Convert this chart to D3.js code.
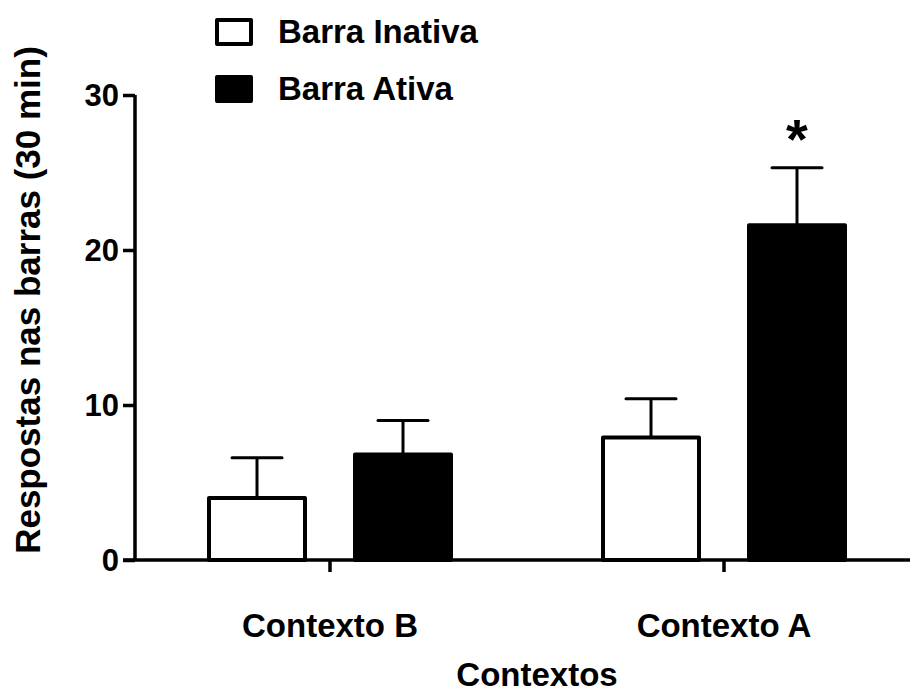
<!DOCTYPE html>
<html>
<head>
<meta charset="utf-8">
<script src="https://cdn.jsdelivr.net/npm/d3@7"></script>
<style>
  html, body { margin: 0; padding: 0; background: #fff; }
  text { font-family: "Liberation Sans", Arial, sans-serif; font-weight: bold; fill: #000; }
</style>
</head>
<body>
<svg id="chart" width="913" height="695"></svg>
<script>
// data
const contexts = ["Contexto B", "Contexto A"];
const series = ["Barra Inativa", "Barra Ativa"];
const means = [[4.0, 6.8], [7.9, 21.6]];   // [context][series]
const sems  = [[2.6, 2.2], [2.5, 3.7]];
const yTicks = [0, 10, 20, 30];
const significant = [[false, false], [false, true]];

const svg = d3.select("#chart");

const y = d3.scaleLinear().domain([0, 30]).range([560, 95]);
const x = d3.scaleBand().domain(contexts).range([133, 921]);
const xSub = d3.scalePoint().domain(series).range([-73, 73]);
const barW = 100;
const fill = d3.scaleOrdinal().domain(series).range(["#fff", "#000"]);

const rows = [];
contexts.forEach((c, i) => series.forEach((s, j) => {
  rows.push({ context: c, series: s, mean: means[i][j], sem: sems[i][j], sig: significant[i][j] });
}));
const cx = d => x(d.context) + x.bandwidth() / 2 + xSub(d.series);

// bars
svg.append("g").selectAll("rect")
  .data(rows)
  .join("rect")
  .attr("x", d => cx(d) - barW / 2 + 2)
  .attr("width", barW - 4)
  .attr("y", d => y(d.mean))
  .attr("height", d => y(0) - y(d.mean))
  .attr("fill", d => fill(d.series))
  .attr("stroke", "#000")
  .attr("stroke-width", 4)
  .attr("stroke-linejoin", "round");

// error bars (upper only)
const err = svg.append("g").attr("stroke", "#000").attr("stroke-width", 3);
err.selectAll("line.v")
  .data(rows)
  .join("line")
  .attr("class", "v")
  .attr("x1", cx).attr("x2", cx)
  .attr("y1", d => y(d.mean))
  .attr("y2", d => y(d.mean + d.sem));
err.selectAll("line.cap")
  .data(rows)
  .join("line")
  .attr("class", "cap")
  .attr("x1", d => cx(d) - 25).attr("x2", d => cx(d) + 25)
  .attr("y1", d => y(d.mean + d.sem))
  .attr("y2", d => y(d.mean + d.sem))
  .attr("stroke-linecap", "round");

// significance marker
svg.append("g").selectAll("text")
  .data(rows.filter(d => d.sig))
  .join("text")
  .attr("x", cx)
  .attr("y", d => y(d.mean + d.sem) - 10)
  .attr("text-anchor", "middle")
  .style("font-size", "56px")
  .text("*");

// y axis
const axisX = 135;
const yAxis = svg.append("g")
  .attr("transform", `translate(${axisX},0)`)
  .call(d3.axisLeft(y).tickValues(yTicks).tickSize(12).tickPadding(4));
yAxis.select(".domain").attr("d", `M0,${y(30)}V${y(0)}`).attr("stroke-width", 3.5);
yAxis.selectAll(".tick line").attr("stroke-width", 3.5);
yAxis.selectAll(".tick text")
  .style("font-size", "31px").style("font-family", "Liberation Sans, Arial, sans-serif")
  .attr("dy", "0.35em");

// x axis
const xAxis = svg.append("g")
  .attr("transform", `translate(0,${y(0)})`)
  .call(d3.axisBottom(x).tickSize(12).tickPadding(42));
xAxis.select(".domain").attr("d", `M${axisX - 12},0H910`).attr("stroke-width", 3.5);
xAxis.selectAll(".tick line").attr("stroke-width", 3.5);
xAxis.selectAll(".tick text")
  .style("font-size", "33px").style("font-family", "Liberation Sans, Arial, sans-serif");

// axis titles
svg.append("text")
  .attr("x", 537).attr("y", 686)
  .attr("text-anchor", "middle")
  .style("font-size", "33px")
  .text("Contextos");

svg.append("text")
  .attr("transform", "translate(40,300) rotate(-90)")
  .attr("text-anchor", "middle")
  .style("font-size", "35px")
  .text("Respostas nas barras (30 min)");

// legend
const legend = svg.append("g").selectAll("g")
  .data(series)
  .join("g")
  .attr("transform", (d, i) => `translate(215,${18 + i * 57})`);
legend.append("rect")
  .attr("x", 2).attr("y", 2)
  .attr("width", 34).attr("height", 24)
  .attr("fill", d => fill(d))
  .attr("stroke", "#000").attr("stroke-width", 4)
  .attr("stroke-linejoin", "round");
legend.append("text")
  .attr("x", 63).attr("y", 25)
  .style("font-size", "33px")
  .text(d => d);
</script>
</body>
</html>
